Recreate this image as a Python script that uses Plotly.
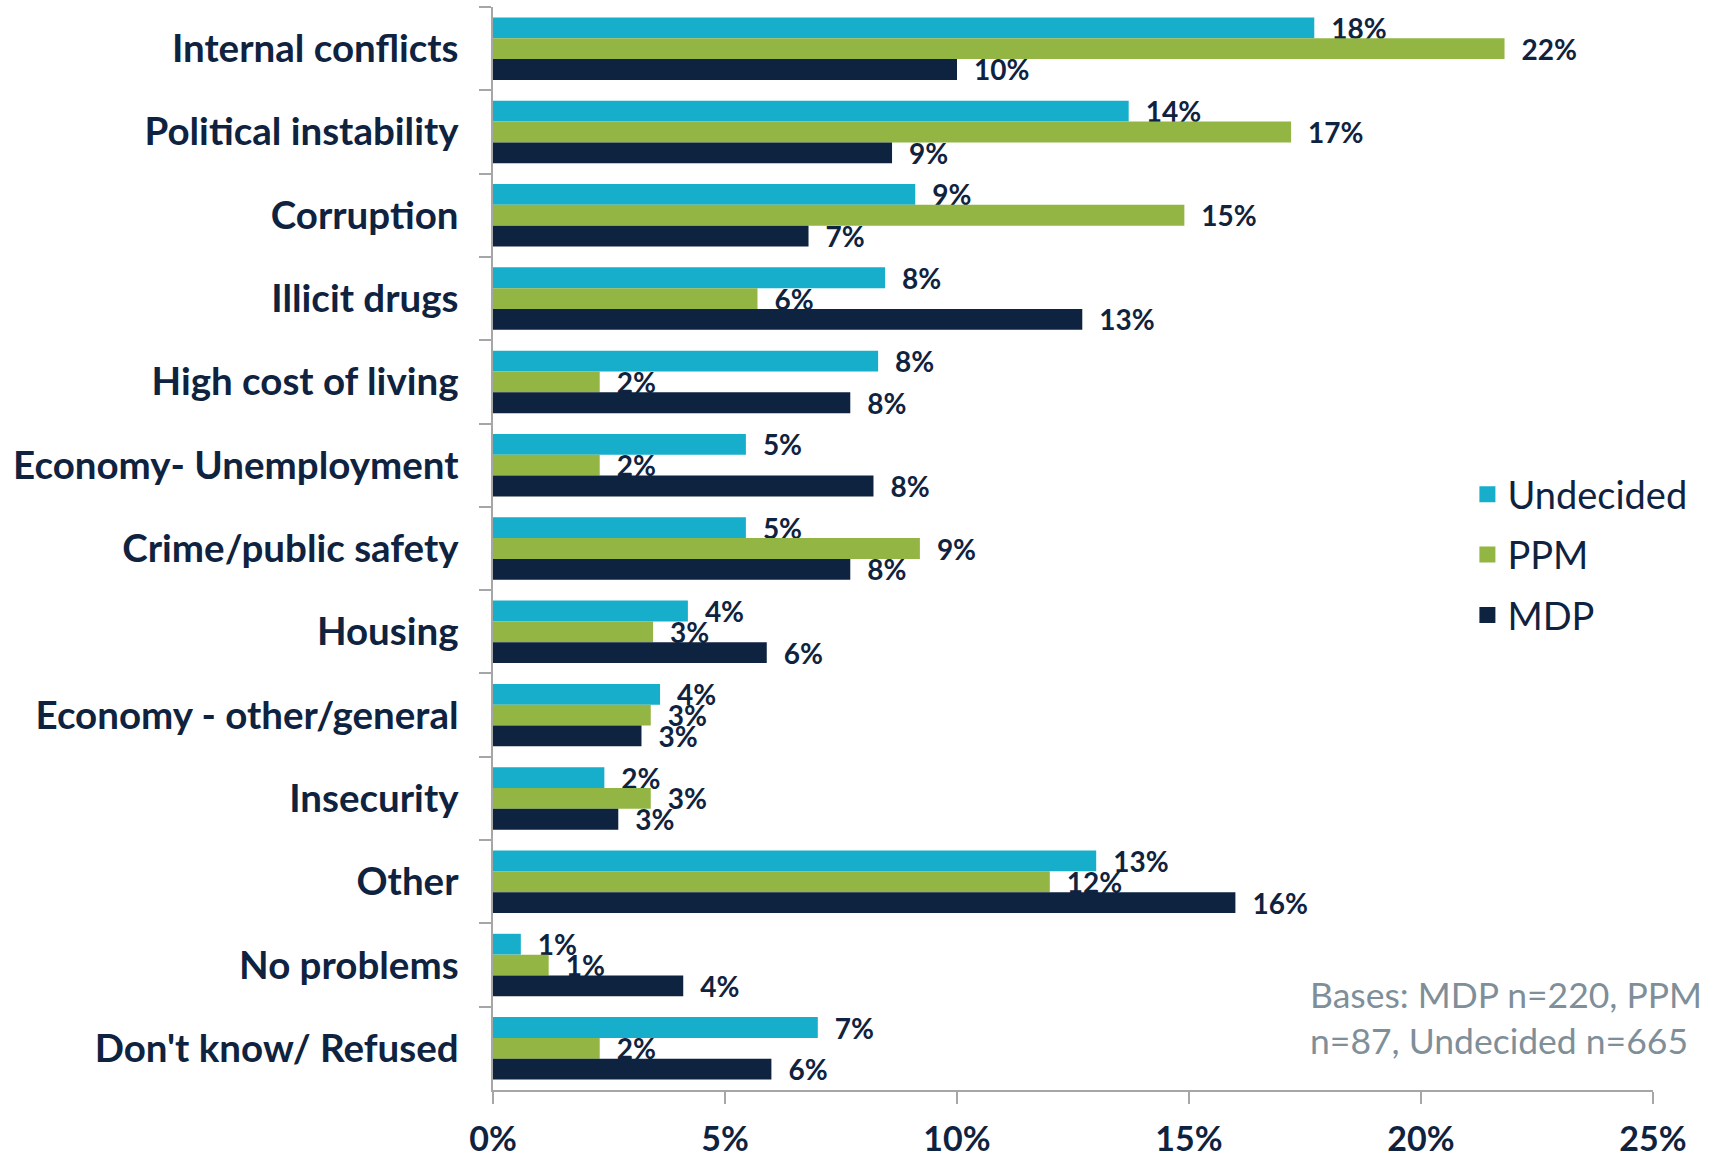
import plotly.graph_objects as go

# Survey: most important problem, by vote intention
categories = [
    "Internal conflicts",
    "Political instability",
    "Corruption",
    "Illicit drugs",
    "High cost of living",
    "Economy- Unemployment",
    "Crime/public safety",
    "Housing",
    "Economy - other/general",
    "Insecurity",
    "Other",
    "No problems",
    "Don't know/ Refused",
]
undecided = [17.7, 13.7, 9.1, 8.45, 8.3, 5.45, 5.45, 4.2, 3.6, 2.4, 13.0, 0.6, 7.0]
ppm = [21.8, 17.2, 14.9, 5.7, 2.3, 2.3, 9.2, 3.45, 3.4, 3.4, 12.0, 1.2, 2.3]
mdp = [10.0, 8.6, 6.8, 12.7, 7.7, 8.2, 7.7, 5.9, 3.2, 2.7, 16.0, 4.1, 6.0]
series_names = ["Undecided", "PPM", "MDP"]
x_ticks = [0, 5, 10, 15, 20, 25]
x_tick_text = ["0%", "5%", "10%", "15%", "20%", "25%"]
bases_note = "Bases: MDP n=220, PPM<br>n=87, Undecided n=665"

COLORS = {"Undecided": "#17aecb", "PPM": "#92b543", "MDP": "#0e2340"}
NAVY = "#0f2340"
AXIS_GREY = "#a6a6a6"
FONT = "Lato"

fig = go.Figure()
for name, values in zip(series_names, [undecided, ppm, mdp]):
    fig.add_trace(go.Bar(
        name=name,
        y=categories,
        x=values,
        orientation="h",
        marker=dict(color=COLORS[name], line=dict(width=0)),
        texttemplate="\u2002%{x:.0f}%",
        textposition="outside",
        textfont=dict(family=FONT, size=28, color=NAVY, weight="bold"),
        constraintext="none",
        cliponaxis=False,
        showlegend=False,
        hoverinfo="x+y+name",
    ))
    # legend proxy so the swatch can be bigger than the default bar icon
    fig.add_trace(go.Scatter(
        name=name,
        x=[None],
        y=[None],
        mode="markers",
        marker=dict(symbol="square", size=20, color=COLORS[name]),
        legendgroup=name,
        showlegend=True,
    ))

fig.update_layout(
    width=1713,
    height=1157,
    margin=dict(l=493, r=60, t=7, b=67),
    paper_bgcolor="white",
    plot_bgcolor="white",
    barmode="group",
    bargap=0.25,
    bargroupgap=0,
    font=dict(family=FONT, color=NAVY),
    legend=dict(
        x=0.84,
        xanchor="left",
        y=0.494,
        yanchor="middle",
        traceorder="grouped",
        itemsizing="trace",
        tracegroupgap=8,
        font=dict(family=FONT, size=38, color=NAVY),
        bgcolor="rgba(0,0,0,0)",
    ),
    xaxis=dict(
        range=[0, 25],
        tickvals=x_ticks,
        ticktext=x_tick_text,
        showgrid=False,
        zeroline=False,
        showline=True,
        linecolor=AXIS_GREY,
        linewidth=1.5,
        ticks="outside",
        ticklen=12,
        tickwidth=1.5,
        tickcolor=AXIS_GREY,
        ticklabelstandoff=6,
        automargin=False,
        tickfont=dict(family=FONT, size=34, color=NAVY, weight="bold"),
    ),
    yaxis=dict(
        categoryorder="array",
        categoryarray=categories,
        autorange="reversed",
        showgrid=False,
        showline=True,
        linecolor=AXIS_GREY,
        linewidth=1.5,
        ticks="outside",
        tickson="boundaries",
        ticklen=12,
        tickwidth=1.5,
        tickcolor=AXIS_GREY,
        ticklabelstandoff=25,
        automargin=False,
        tickfont=dict(family=FONT, size=38.5, color=NAVY, weight="bold"),
    ),
)

fig.add_annotation(
    text=bases_note,
    xref="paper",
    yref="paper",
    x=0.703,
    y=0.067,
    xanchor="left",
    yanchor="middle",
    align="left",
    showarrow=False,
    font=dict(family=FONT, size=35.5, color="#7f8f99"),
)

fig.write_html(
    "out.html",
    config={"displayModeBar": False},
    post_script="document.body.style.margin='0';",
)
